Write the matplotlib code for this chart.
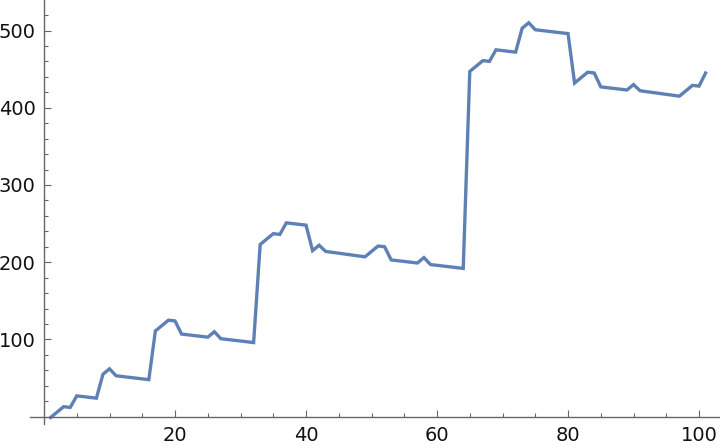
import matplotlib
matplotlib.use("Agg")
import matplotlib.pyplot as plt
from matplotlib.ticker import FixedLocator

# vertex positions
x_vals = [1, 3, 4, 5, 8, 9, 10, 11, 16, 17, 19, 20, 21, 25, 26, 27, 32,
          33, 35, 36, 37, 40, 41, 42, 43, 49, 51, 52, 53, 57, 58, 59, 64,
          65, 67, 68, 69, 72, 73, 74, 75, 80, 81, 83, 84, 85, 89, 90, 91,
          97, 99, 100, 101]
y_vals = [-1, 13, 12, 27, 24, 55, 62, 53, 48, 111, 125, 124, 107, 103, 110, 101, 96,
          223, 237, 236, 251, 248, 215, 222, 214, 207, 221, 220, 203, 199, 206, 197, 192,
          447, 461, 460, 475, 472, 503, 510, 501, 496, 432, 446, 445, 427, 423, 430, 422,
          415, 429, 428, 445]

x_major = [20, 40, 60, 80, 100]
y_major = [100, 200, 300, 400, 500]

fig = plt.figure(figsize=(7.2, 4.48), dpi=100)
ax = fig.add_axes([0, 0, 1, 1])
ax.patch.set_alpha(0)

ax.plot(x_vals, y_vals, color="#5E81B5", lw=2.4, solid_joinstyle="miter", clip_on=False)

ax.set_xlim(-6.72, 103.2)
ax.set_ylim(-40.5, 539.5)

axis_color = "#666666"
for s in ["top", "right"]:
    ax.spines[s].set_visible(False)
ax.spines["left"].set_position(("data", 0))
ax.spines["bottom"].set_position(("data", 0))
ax.spines["left"].set_bounds(-10, 539.5)
ax.spines["bottom"].set_bounds(-2.2, 103.2)
for s in ["left", "bottom"]:
    ax.spines[s].set_color(axis_color)
    ax.spines[s].set_linewidth(1.0)

ax.set_xticks(x_major)
ax.set_yticks(y_major)
ax.xaxis.set_minor_locator(FixedLocator([v for v in range(5, 105, 5) if v % 20]))
ax.yaxis.set_minor_locator(FixedLocator([v for v in range(20, 540, 20) if v % 100]))
ax.tick_params(which="both", direction="in", color=axis_color, width=0.8,
               labelsize=14, labelcolor="#111111")
ax.tick_params(which="major", length=5)
ax.tick_params(which="minor", length=3)
ax.tick_params(axis="y", pad=6)
ax.tick_params(axis="x", pad=6.5)

fig.savefig("out.png", dpi=100)
